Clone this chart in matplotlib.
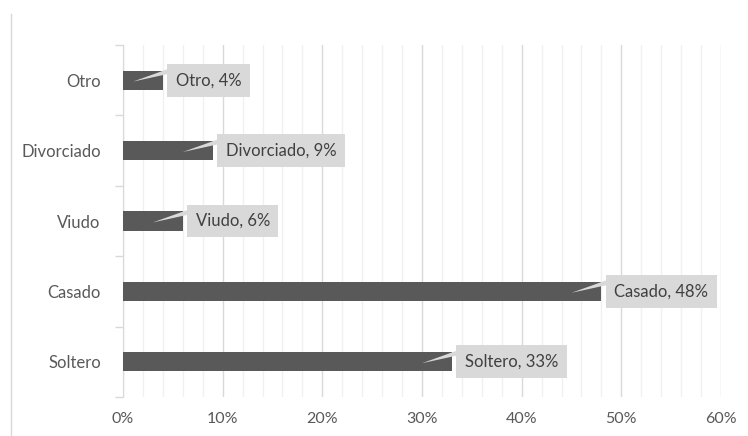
import matplotlib
matplotlib.use("Agg")
import matplotlib.pyplot as plt
from matplotlib.patches import Polygon
from matplotlib.ticker import MultipleLocator, FuncFormatter
from matplotlib.lines import Line2D

categorias = ["Soltero", "Casado", "Viudo", "Divorciado", "Otro"]
porcentajes = [33, 48, 6, 9, 4]

plt.rcParams['font.family'] = ['Lato', 'DejaVu Sans']

BAR = "#595959"
CAJA = "#d9d9d9"
TEXTO = "#404040"

fig = plt.figure(figsize=(7.48, 4.36), dpi=100)
ax = fig.add_axes([123 / 748, 1 - 397 / 436, 598 / 748, 352 / 436])

y = list(range(len(categorias)))
ax.barh(y, porcentajes, height=0.27, color=BAR, zorder=3)

ax.set_xlim(0, 60)
ax.set_ylim(-0.5, len(categorias) - 0.5)
ax.xaxis.set_major_locator(MultipleLocator(10))
ax.xaxis.set_minor_locator(MultipleLocator(2))
ax.xaxis.set_major_formatter(FuncFormatter(lambda v, p: f"{v:.0f}%"))
ax.grid(axis='x', which='major', color="#d9d9d9", lw=1, zorder=0)
ax.grid(axis='x', which='minor', color="#f0f0f0", lw=1, zorder=0)
ax.tick_params(axis='x', which='both', length=0, pad=11, labelsize=11.5, labelcolor="#595959")

ax.set_yticks(y)
ax.set_yticklabels(categorias)
ax.set_yticks([i - 0.5 for i in range(len(categorias) + 1)], minor=True)
ax.tick_params(axis='y', which='major', length=0, pad=16, labelsize=12, labelcolor="#595959")
ax.tick_params(axis='y', which='minor', length=6, color="#d9d9d9", width=1)

for s in ["top", "right", "bottom"]:
    ax.spines[s].set_visible(False)
ax.spines["left"].set_color("#d9d9d9")

# etiquetas tipo globo a la derecha de cada barra
etiquetas = []
for i, (cat, val) in enumerate(zip(categorias, porcentajes)):
    t = ax.annotate(f"{cat}, {val}%", xy=(val + 0.6, i), xytext=(5, 0),
                    textcoords="offset points", ha="left", va="center",
                    fontsize=12, color=TEXTO, zorder=5,
                    bbox=dict(boxstyle="square,pad=0.5", fc=CAJA, ec="none"))
    etiquetas.append((t, val, i))

fig.canvas.draw()
r = fig.canvas.get_renderer()
inv = ax.transData.inverted()
for t, val, i in etiquetas:
    ext = t.get_bbox_patch().get_window_extent(r)
    x0 = ext.x0 + 1
    y_top = ext.y1
    p1 = inv.transform((x0, y_top - 5))
    p2 = inv.transform((x0, y_top - 10))
    punta = (val - 3, i - 0.02)
    ax.add_patch(Polygon([p1, p2, punta], closed=True, fc=CAJA, ec="none", zorder=4))

fig.add_artist(Line2D([11 / 748, 11 / 748], [0, 1 - 14 / 436], color="#d9d9d9", lw=1))

fig.savefig("out.png", dpi=100, facecolor="white")
